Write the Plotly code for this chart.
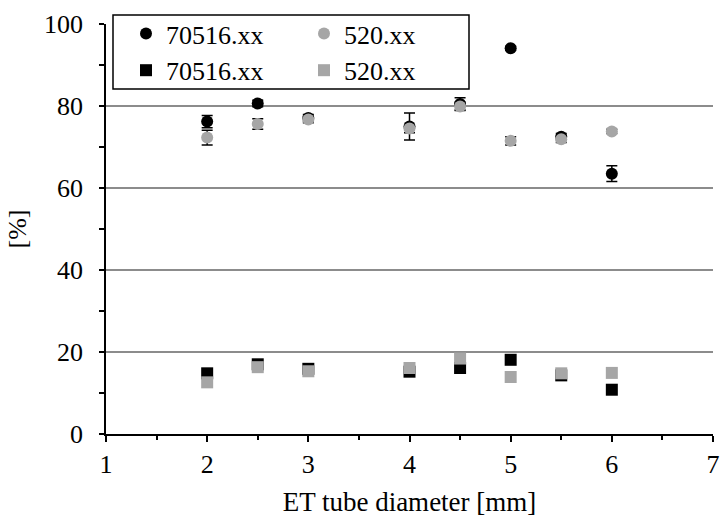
import plotly.graph_objects as go

# ---- data ----
x_vals = [2, 2.5, 3, 4, 4.5, 5, 5.5, 6]

circ_70516 = [76.2, 80.6, 77.1, 75.0, 80.5, 94.1, 72.5, 63.5]
circ_70516_err = [1.5, 0.8, 0.8, 3.3, 1.5, 0.5, 0.8, 1.9]

circ_520 = [72.3, 75.6, 76.7, 74.5, 79.9, 71.5, 71.9, 73.8]
circ_520_err = [1.8, 1.3, 0.8, 1.0, 1.0, 1.0, 0.8, 0.5]

sq_70516 = [14.8, 17.0, 15.9, 15.2, 16.1, 18.1, 14.3, 10.8]
sq_520 = [12.6, 16.3, 15.3, 16.1, 18.4, 13.9, 14.8, 14.9]

series_name_a = "70516.xx"
series_name_b = "520.xx"
x_title = "ET tube diameter [mm]"
y_title = "[%]"

BLACK = "#000000"
GRAY = "#a6a6a6"
FONT = "Liberation Serif"

W, H = 721, 517
ML, MR, MT, MB = 106, 8, 24, 83
PW, PH = W - ML - MR, H - MT - MB


def px_x(p):
    return (p - ML) / PW


def px_y(p):
    return (H - MB - p) / PH


fig = go.Figure()

fig.add_trace(go.Scatter(
    x=x_vals, y=circ_70516, mode="markers", name=series_name_a,
    marker=dict(symbol="circle", size=12, color=BLACK),
    error_y=dict(type="data", array=circ_70516_err, color=BLACK, thickness=1.5, width=5.5),
    legend="legend", legendrank=1,
))
fig.add_trace(go.Scatter(
    x=x_vals, y=circ_520, mode="markers", name=series_name_b,
    marker=dict(symbol="circle", size=12, color=GRAY),
    error_y=dict(type="data", array=circ_520_err, color=BLACK, thickness=1.5, width=5.5),
    legend="legend2", legendrank=1,
))
fig.add_trace(go.Scatter(
    x=x_vals, y=sq_70516, mode="markers", name=series_name_a,
    marker=dict(symbol="square", size=12, color=BLACK),
    legend="legend", legendrank=2,
))
fig.add_trace(go.Scatter(
    x=x_vals, y=sq_520, mode="markers", name=series_name_b,
    marker=dict(symbol="square", size=12, color=GRAY),
    legend="legend2", legendrank=2,
))

legend_common = dict(
    bgcolor="rgba(0,0,0,0)", borderwidth=0,
    font=dict(family=FONT, size=26, color=BLACK),
    orientation="v", xanchor="left", yanchor="top",
    tracegroupgap=0, itemwidth=30,
)

fig.update_layout(
    width=W, height=H,
    margin=dict(l=ML, r=MR, t=MT, b=MB, autoexpand=False),
    paper_bgcolor="white", plot_bgcolor="white",
    font=dict(family=FONT, size=26, color=BLACK),
    showlegend=True,
    legend=dict(x=px_x(126), y=px_y(10), **legend_common),
    legend2=dict(x=px_x(304), y=px_y(10), **legend_common),
    shapes=[dict(
        type="rect", xref="paper", yref="paper",
        x0=px_x(113), x1=px_x(469), y0=px_y(89), y1=px_y(15),
        line=dict(color=BLACK, width=1.5), fillcolor="white", layer="above",
    )],
    xaxis=dict(
        range=[1, 7], dtick=1, tick0=1, automargin=False,
        ticklabeloverflow="allow",
        showgrid=False, zeroline=False,
        showline=True, linecolor=BLACK, linewidth=1.5,
        ticks="outside", ticklen=6, tickwidth=1.5, tickcolor=BLACK,
        minor=dict(dtick=0.5, ticks="outside", ticklen=4, tickwidth=1.5, tickcolor=BLACK, showgrid=False),
        tickfont=dict(family=FONT, size=26, color=BLACK),
        title=dict(text=x_title, font=dict(family=FONT, size=27, color=BLACK), standoff=21),
    ),
    yaxis=dict(
        range=[0, 100], dtick=20, tick0=0, automargin=False,
        ticklabeloverflow="allow",
        showgrid=True, gridcolor="#8c8c8c", gridwidth=1.5, zeroline=False,
        showline=True, linecolor=BLACK, linewidth=1.5,
        ticks="outside", ticklen=5, tickwidth=1.5, tickcolor=BLACK,
        ticklabelstandoff=11,
        minor=dict(dtick=10, ticks="outside", ticklen=5, tickwidth=1.5, tickcolor=BLACK, showgrid=False),
        tickfont=dict(family=FONT, size=26, color=BLACK),
        title=dict(text=y_title, font=dict(family=FONT, size=26, color=BLACK), standoff=10),
    ),
)

fig.write_html(
    "out.html",
    config={"displayModeBar": False},
    post_script="document.body.style.margin='0';document.body.style.overflow='hidden';",
)
